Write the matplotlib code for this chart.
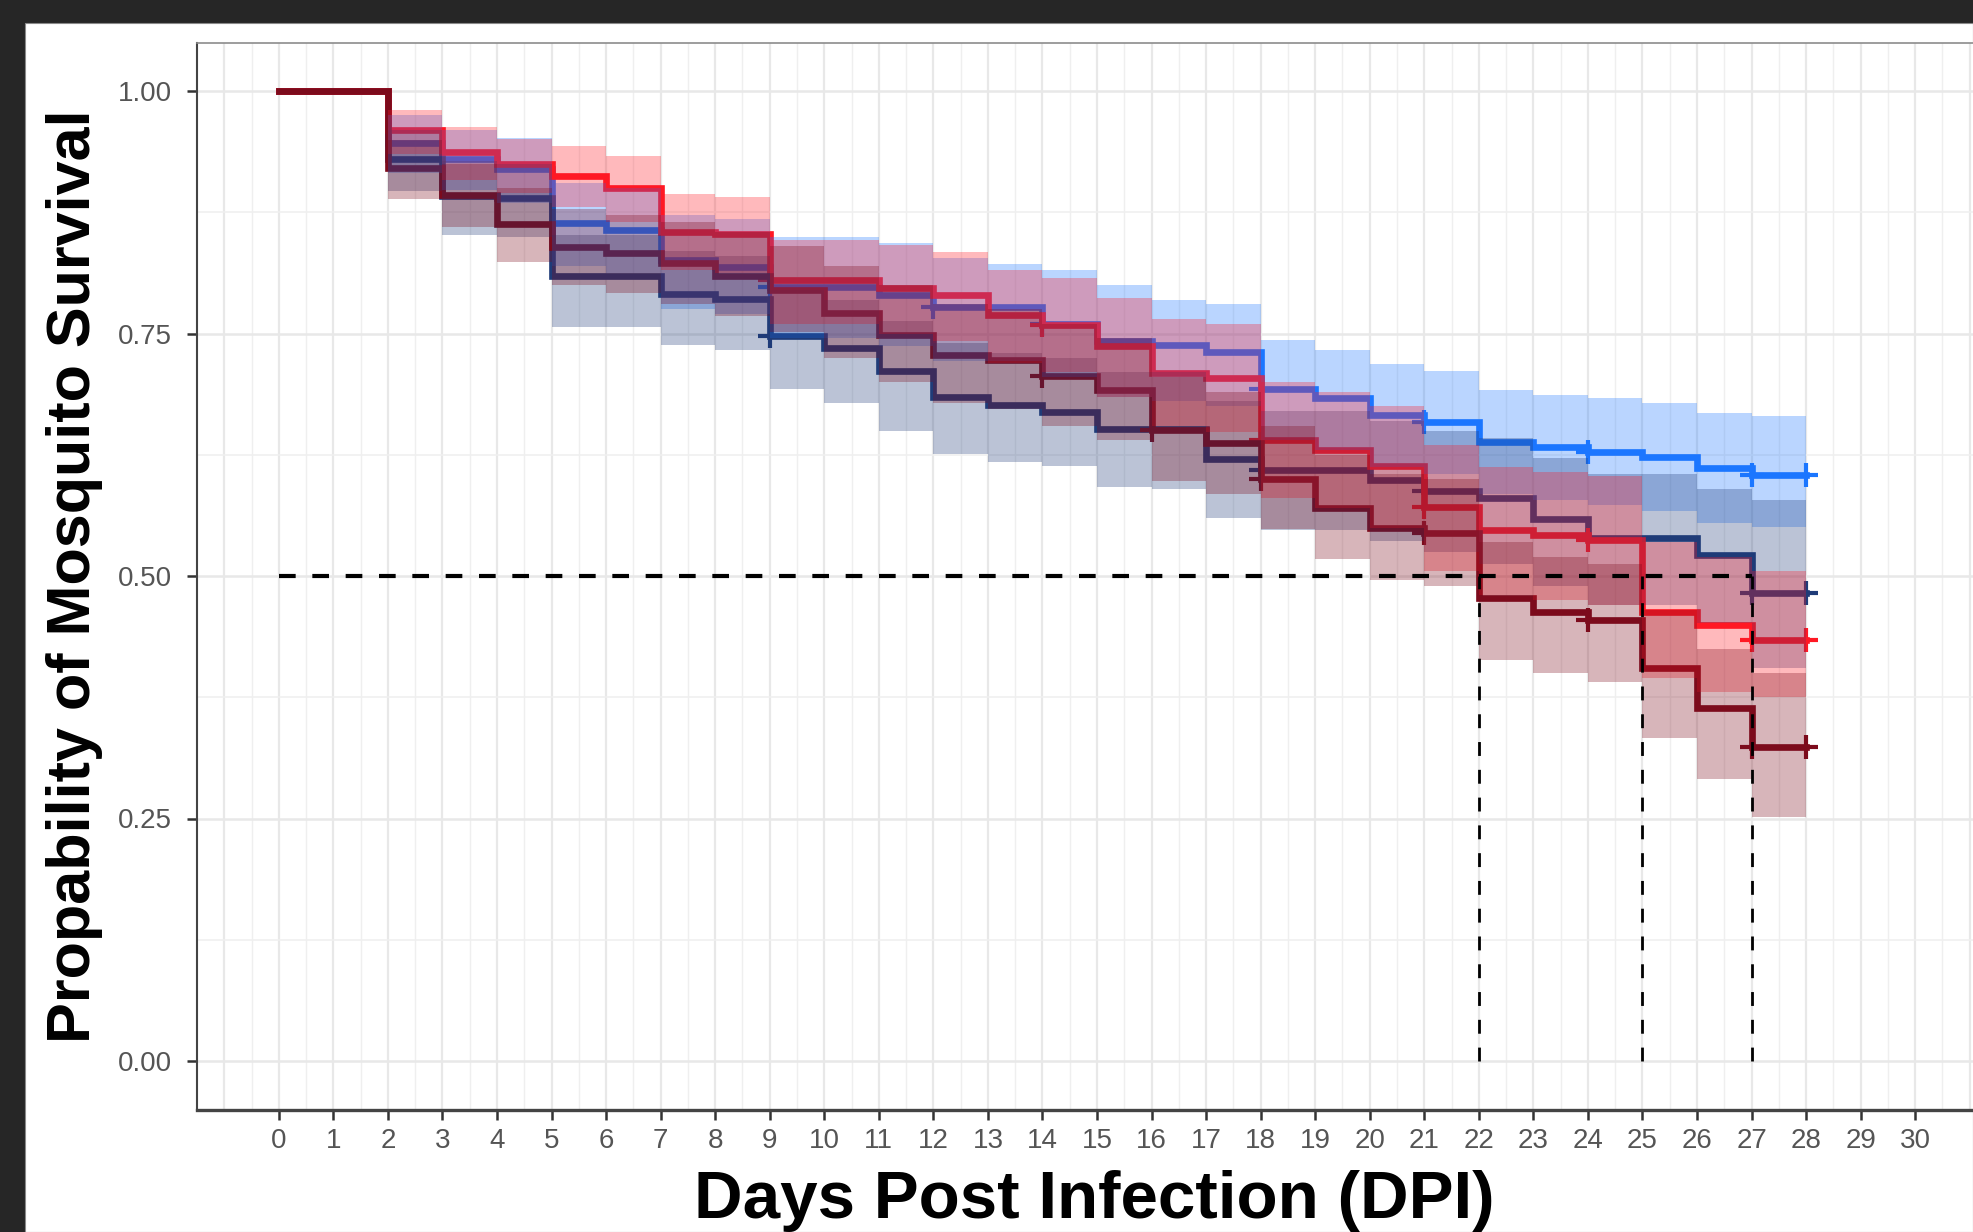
import matplotlib
matplotlib.use('Agg')
import matplotlib.pyplot as plt
from matplotlib.patches import Rectangle
import numpy as np

plt.rcParams['font.family'] = ['Liberation Sans', 'DejaVu Sans']

# time points (days post infection); value holds until the next time point
days = [0, 2, 3, 4, 5, 6, 7, 8, 9, 10, 11, 12, 13, 14, 15, 16, 17, 18, 19, 20,
        21, 22, 23, 24, 25, 26, 27, 28]

# bright blue group
bb_surv = [1.0, 0.946, 0.930, 0.920, 0.864, 0.857, 0.826, 0.819, 0.798, 0.798, 0.790, 0.777, 0.777, 0.760,
           0.742, 0.738, 0.731, 0.693, 0.683, 0.666, 0.659, 0.638, 0.633, 0.628, 0.623, 0.611, 0.604, 0.604]
bb_upper = [1.0, 0.975, 0.960, 0.952, 0.905, 0.900, 0.872, 0.868, 0.850, 0.850, 0.843, 0.828, 0.822, 0.815,
            0.800, 0.785, 0.780, 0.743, 0.733, 0.719, 0.711, 0.692, 0.687, 0.683, 0.678, 0.668, 0.665, 0.665]
bb_lower = [1.0, 0.915, 0.898, 0.885, 0.820, 0.812, 0.775, 0.770, 0.745, 0.745, 0.737, 0.722, 0.722, 0.705,
            0.685, 0.680, 0.675, 0.640, 0.630, 0.612, 0.605, 0.585, 0.578, 0.573, 0.567, 0.555, 0.551, 0.551]
bb_censor = [9, 12, 14, 18, 21, 24, 27, 28]

# navy group
nb_surv = [1.0, 0.930, 0.892, 0.890, 0.809, 0.809, 0.791, 0.786, 0.747, 0.735, 0.711, 0.685, 0.676, 0.669,
           0.652, 0.652, 0.621, 0.609, 0.609, 0.599, 0.588, 0.580, 0.559, 0.539, 0.539, 0.522, 0.482, 0.482]
nb_upper = [1.0, 0.960, 0.928, 0.925, 0.852, 0.852, 0.835, 0.830, 0.795, 0.785, 0.763, 0.740, 0.730, 0.725,
            0.710, 0.710, 0.680, 0.670, 0.670, 0.660, 0.650, 0.642, 0.622, 0.605, 0.605, 0.590, 0.578, 0.578]
nb_lower = [1.0, 0.897, 0.852, 0.850, 0.757, 0.757, 0.738, 0.733, 0.693, 0.678, 0.650, 0.626, 0.618, 0.613,
            0.592, 0.590, 0.560, 0.547, 0.547, 0.536, 0.525, 0.512, 0.490, 0.470, 0.470, 0.452, 0.405, 0.405]
nb_censor = [9, 18, 21, 27, 28]

# bright red group
br_surv = [1.0, 0.960, 0.937, 0.925, 0.912, 0.900, 0.855, 0.853, 0.805, 0.805, 0.797, 0.790, 0.769, 0.759,
           0.737, 0.709, 0.704, 0.640, 0.630, 0.613, 0.571, 0.547, 0.542, 0.537, 0.463, 0.449, 0.434, 0.434]
br_upper = [1.0, 0.980, 0.963, 0.951, 0.943, 0.933, 0.894, 0.891, 0.846, 0.846, 0.841, 0.834, 0.815, 0.807,
            0.787, 0.765, 0.760, 0.700, 0.690, 0.675, 0.635, 0.612, 0.607, 0.603, 0.535, 0.520, 0.505, 0.505]
br_lower = [1.0, 0.935, 0.908, 0.895, 0.880, 0.865, 0.815, 0.812, 0.760, 0.760, 0.750, 0.742, 0.720, 0.710,
            0.685, 0.655, 0.648, 0.580, 0.570, 0.550, 0.505, 0.480, 0.475, 0.470, 0.395, 0.380, 0.375, 0.375]
br_censor = [9, 14, 18, 21, 24, 27, 28]

# dark red group
dr_surv = [1.0, 0.921, 0.893, 0.863, 0.839, 0.833, 0.823, 0.809, 0.795, 0.771, 0.748, 0.728, 0.723, 0.706,
           0.692, 0.651, 0.637, 0.600, 0.570, 0.549, 0.544, 0.477, 0.463, 0.455, 0.405, 0.364, 0.324, 0.324]
dr_upper = [1.0, 0.950, 0.925, 0.900, 0.878, 0.872, 0.865, 0.855, 0.840, 0.820, 0.800, 0.780, 0.775, 0.760,
            0.745, 0.705, 0.690, 0.655, 0.625, 0.605, 0.600, 0.535, 0.520, 0.512, 0.465, 0.425, 0.400, 0.400]
dr_lower = [1.0, 0.889, 0.860, 0.824, 0.800, 0.792, 0.780, 0.768, 0.752, 0.725, 0.700, 0.678, 0.672, 0.655,
            0.640, 0.598, 0.585, 0.548, 0.518, 0.496, 0.490, 0.413, 0.400, 0.391, 0.333, 0.291, 0.252, 0.252]
dr_censor = [14, 16, 18, 21, 24, 27, 28]

medians = [22, 25, 27]
x_ticks = list(range(0, 31))
y_ticks = [0.0, 0.25, 0.5, 0.75, 1.0]

groups = [
    (bb_surv, bb_lower, bb_upper, bb_censor, '#1b76ff'),
    (nb_surv, nb_lower, nb_upper, nb_censor, '#1f3b78'),
    (br_surv, br_lower, br_upper, br_censor, '#ff1824'),
    (dr_surv, dr_lower, dr_upper, dr_censor, '#7c0b1c'),
]

W, H = 1973, 1232
fig = plt.figure(figsize=(W / 100, H / 100), dpi=100, facecolor='#262626')
fig.patches.append(Rectangle((25 / W, 0), 1 - 25 / W, (H - 23) / H, transform=fig.transFigure,
                             facecolor='white', edgecolor='#8a8a8a', lw=0.8, zorder=-1))

# panel runs past the right edge like in the original crop
ax = fig.add_axes([197 / W, 122.5 / H, 1800 / W, 1067 / H])
ax.set_facecolor('white')
ax.set_xlim(-1.5, 31.5)
ax.set_ylim(-0.05, 1.05)

# grid
for xv in np.arange(-1, 31.5, 0.5):
    major = float(xv).is_integer()
    ax.axvline(xv, color='#e8e8e8' if major else '#efefef', lw=1.6 if major else 1.0, zorder=0)
for yv in np.arange(0, 1.01, 0.125):
    major = (yv * 4).is_integer()
    ax.axhline(yv, color='#e8e8e8' if major else '#efefef', lw=1.8 if major else 1.1, zorder=0)

for surv, lo, hi, cens, col in groups:
    ax.step(days, surv, where='post', color=col, lw=4.8, zorder=2, solid_joinstyle='miter')
    cy = [surv[days.index(d)] for d in cens]
    ax.plot(cens, cy, ls='none', marker='+', ms=17, mew=3.0, color=col, zorder=2)

for surv, lo, hi, cens, col in groups:
    ax.fill_between(days, lo, hi, step='post', color=col, alpha=0.3, lw=0, zorder=3)

# median survival lines
ax.plot([0, max(medians)], [0.5, 0.5], color='black', lw=3.0, ls=(0, (4, 4)), zorder=5)
for m in medians:
    ax.plot([m, m], [0, 0.5], color='black', lw=2.0, ls=(0, (5, 5)), zorder=5)

ax.set_xticks(x_ticks)
ax.set_yticks(y_ticks)
ax.set_yticklabels(['0.00', '0.25', '0.50', '0.75', '1.00'])
ax.tick_params(axis='both', labelsize=20, labelcolor='#555555', color='#333333',
               length=7, width=1.8, pad=6)
ax.tick_params(axis='y', pad=11)

for s in ['left', 'bottom']:
    ax.spines[s].set_color('#444444')
ax.spines['left'].set_linewidth(1.5)
ax.spines['bottom'].set_linewidth(2.4)
ax.spines['top'].set_color('#8c8c8c')
ax.spines['top'].set_linewidth(1.2)
ax.spines['right'].set_visible(False)

ax.set_xlabel('Days Post Infection (DPI)', fontsize=48.5, fontweight='bold', color='black')
ax.set_ylabel('Propability of Mosquito Survival', fontsize=44, fontweight='bold', color='black')
ax.xaxis.set_label_coords(0.4985, -0.057, transform=ax.transAxes)
ax.xaxis.label.set_va('top')
ax.yaxis.set_label_coords(-0.052, 0.5, transform=ax.transAxes)

fig.savefig('out.png', dpi=100, facecolor=fig.get_facecolor())
